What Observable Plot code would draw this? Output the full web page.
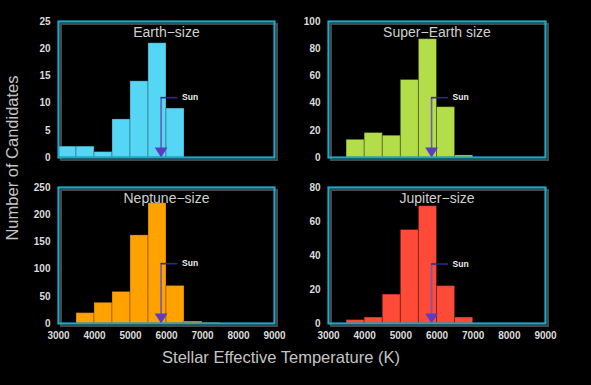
<!DOCTYPE html>
<html>
<head>
<meta charset="utf-8">
<script src="https://cdn.jsdelivr.net/npm/d3@7"></script>
<script src="https://cdn.jsdelivr.net/npm/@observablehq/plot@0.6"></script>
<style>
  html, body { margin: 0; padding: 0; background: #000; }
  #chart { position: relative; width: 591px; height: 385px; background: #000; overflow: hidden; font-family: "Liberation Sans", Arial, sans-serif; }
  .panel { position: absolute; }
  .ylab { position: absolute; left: 12px; top: 158px; transform: translate(-50%, -50%) rotate(-90deg); color: #c4c4c4; font-size: 16.5px; white-space: nowrap; }
  .xlab { position: absolute; left: 281px; top: 357px; transform: translate(-50%, -50%); color: #c4c4c4; font-size: 16.5px; white-space: nowrap; }
</style>
</head>
<body>
<div id="chart">
  <div class="ylab">Number of Candidates</div>
  <div class="xlab">Stellar Effective Temperature (K)</div>
</div>
<script>
// ---- data ----
const binStarts = [3000, 3500, 4000, 4500, 5000, 5500, 6000, 6500, 7000];
const binWidth = 500;
const earthCounts = [2, 2, 1, 7, 14, 21, 9, 0, 0];
const superEarthCounts = [0, 13, 18, 16, 57, 87, 37, 1.5, 0];
const neptuneCounts = [0, 19, 38, 58, 162, 221, 69, 3.5, 1];
const jupiterCounts = [0, 2, 3.5, 17, 55, 69, 22, 3.5, 0];
const panelTitles = ["Earth\u2212size", "Super\u2212Earth size", "Neptune\u2212size", "Jupiter\u2212size"];
const yDomainMax = [25, 100, 250, 80];
const yTickEarth = [0, 5, 10, 15, 20, 25];
const yTickSuperEarth = [0, 20, 40, 60, 80, 100];
const yTickNeptune = [0, 50, 100, 150, 200, 250];
const yTickJupiter = [0, 20, 40, 60, 80];
const xTickLabels = [3000, 4000, 5000, 6000, 7000, 8000, 9000];
const xDomain = [3000, 9000];
const sunTemp = 5850;
const sunLabelTemp = 6320;
const sunArrowTop = [11, 44, 110, 35];
const sunLabel = "Sun";
const barColors = ["#55d6f4", "#b4dd4a", "#ffa200", "#ff4a38"];

const counts = [earthCounts, superEarthCounts, neptuneCounts, jupiterCounts];
const yTicks = [yTickEarth, yTickSuperEarth, yTickNeptune, yTickJupiter];

// ---- layout ----
const layout = [
  {left: 0,   top: 0,   width: 295, height: 172, ml: 58, mr: 21, mt: 21, mb: 15, xAxis: false},
  {left: 295, top: 0,   width: 296, height: 172, ml: 33, mr: 46, mt: 21, mb: 15, xAxis: false},
  {left: 0,   top: 172, width: 295, height: 178, ml: 58, mr: 21, mt: 15, mb: 27, xAxis: true},
  {left: 295, top: 172, width: 296, height: 178, ml: 33, mr: 46, mt: 15, mb: 27, xAxis: true}
];

const frameColor = "#1ea9c8";
const triDown = {
  draw(ctx, size) {
    const w = Math.sqrt(size) * 0.8;
    const h = w * 1.55;
    ctx.moveTo(-w, -h);
    ctx.lineTo(w, -h);
    ctx.lineTo(0, 0);
    ctx.closePath();
  }
};

const chart = document.getElementById("chart");

counts.forEach((vals, i) => {
  const L = layout[i];
  const data = binStarts.map((b, j) => ({x1: b, x2: b + binWidth, y: vals[j]})).filter(d => d.y > 0);
  const marks = [
    Plot.frame({stroke: "#5a5a5a", strokeWidth: 2, dx: 2.5, dy: 2.5, strokeOpacity: 0.8}),
    Plot.rectY(data, {x1: "x1", x2: "x2", y: "y", fill: barColors[i], stroke: "#000", strokeOpacity: 0.28, strokeWidth: 1, inset: 0}),
    Plot.ruleX([sunTemp], {y1: 0, y2: sunArrowTop[i], stroke: "#6a5cb4", strokeWidth: 1.6}),
    Plot.ruleY([sunArrowTop[i]], {x1: sunTemp, x2: sunLabelTemp, stroke: "#2e2a86", strokeWidth: 1.6}),
    Plot.dot([sunTemp], {x: d => d, y: () => 0, symbol: triDown, r: 4.5, fill: "#5b3cc4", stroke: "none"}),
    Plot.text([sunLabel], {x: () => sunLabelTemp, y: () => sunArrowTop[i], text: d => d, dx: 4, textAnchor: "start", fill: "#eee", fontSize: 8.5, fontWeight: "bold"}),
    Plot.text([panelTitles[i]], {frameAnchor: "top", lineAnchor: "middle", dy: 11, text: d => d, fill: "#cfcfcf", fontSize: 14}),
    Plot.axisY(yTicks[i], {tickSize: 0, tickPadding: 8, fontSize: 10, fill: "#dcdcdc", fontWeight: "bold", label: null}),
    Plot.frame({stroke: frameColor, strokeWidth: 2.2})
  ];
  if (L.xAxis) {
    marks.push(Plot.axisX(xTickLabels, {tickSize: 0, tickPadding: 8, fontSize: 10, fill: "#dcdcdc", fontWeight: "bold", label: null, tickFormat: d => String(d)}));
  } else {
    marks.push(Plot.axisX([], {label: null}));
  }
  const svg = Plot.plot({
    width: L.width,
    height: L.height,
    marginLeft: L.ml,
    marginRight: L.mr,
    marginTop: L.mt,
    marginBottom: L.mb,
    x: {domain: xDomain},
    y: {domain: [0, yDomainMax[i]]},
    style: {background: "transparent", color: "#dcdcdc", fontFamily: "'Liberation Sans', Arial, sans-serif", overflow: "visible"},
    marks
  });
  svg.classList.add("panel");
  svg.style.left = L.left + "px";
  svg.style.top = L.top + "px";
  svg.style.position = "absolute";
  chart.appendChild(svg);
});
</script>
</body>
</html>
